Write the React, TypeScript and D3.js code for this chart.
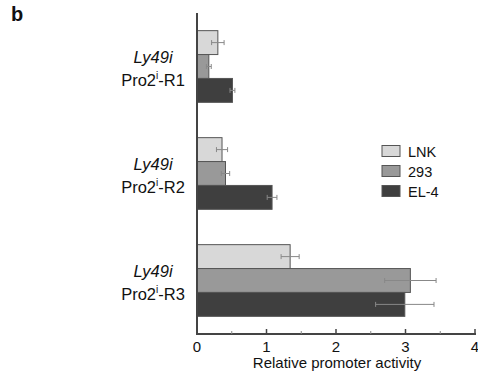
import React from "react";
import * as d3 from "d3";

const groups = ["R1", "R2", "R3"];
const seriesNames = ["LNK", "293", "EL-4"];
const lnkValues = [0.3, 0.36, 1.34];
const lnkErrors = [0.09, 0.08, 0.13];
const h293Values = [0.17, 0.41, 3.07];
const h293Errors = [0.035, 0.06, 0.37];
const el4Values = [0.51, 1.08, 2.99];
const el4Errors = [0.035, 0.07, 0.42];
const xTicks = [0, 1, 2, 3, 4];
const colors = ["#d8d8d8", "#999999", "#3f3f3f"];

const W = 478;
const H = 377;
const FONT = "'Liberation Sans', Arial, sans-serif";

export default function App() {
  const x = d3.scaleLinear().domain([0, 4]).range([197, 475]);
  const y = d3.scaleBand<string>().domain(groups).range([13, 334]).paddingInner(0.33).paddingOuter(0.165);
  const inner = d3.scaleBand<string>().domain(seriesNames).range([0, y.bandwidth()]);
  const values = [lnkValues, h293Values, el4Values];
  const errors = [lnkErrors, h293Errors, el4Errors];
  const minor = d3.range(0.5, 4, 1);

  return (
    <svg width={W} height={H} style={{ position: "absolute", left: 0, top: 0 }} fontFamily={FONT}>
      <rect width={W} height={H} fill="#fff" />
      <text x={11} y={21} fontSize={20} fontWeight="bold" fill="#111">b</text>
      {groups.map((g, gi) => (
        <g key={g}>
          {seriesNames.map((s, si) => {
            const v = values[si][gi];
            const e = errors[si][gi];
            const y0 = (y(g) as number) + (inner(s) as number);
            const bh = inner.bandwidth();
            const cy = y0 + bh / 2;
            return (
              <g key={s}>
                <rect x={x(0)} y={y0} width={x(v) - x(0)} height={bh} fill={colors[si]} stroke="#555" strokeWidth={1} />
                <line x1={x(v - e)} x2={x(v + e)} y1={cy} y2={cy} stroke="#888" strokeWidth={1} />
                <line x1={x(v - e)} x2={x(v - e)} y1={cy - 2.5} y2={cy + 2.5} stroke="#888" strokeWidth={1} />
                <line x1={x(v + e)} x2={x(v + e)} y1={cy - 2.5} y2={cy + 2.5} stroke="#888" strokeWidth={1} />
              </g>
            );
          })}
          <text x={153} y={(y(g) as number) + y.bandwidth() / 2 - 4} textAnchor="middle" fontSize={16.5} fontStyle="italic" fill="#111">Ly49i</text>
          <text x={153} y={(y(g) as number) + y.bandwidth() / 2 + 19} textAnchor="middle" fontSize={16.5} fill="#111">
            Pro2<tspan fontSize={10} dy={-7}>i</tspan><tspan dy={7}>-{g}</tspan>
          </text>
        </g>
      ))}
      <line x1={197} x2={197} y1={13} y2={335} stroke="#444" strokeWidth={2} />
      <line x1={196} x2={476} y1={334} y2={334} stroke="#444" strokeWidth={2} />
      {xTicks.map((t) => (
        <g key={t}>
          <line x1={x(t)} x2={x(t)} y1={329} y2={334} stroke="#444" strokeWidth={1.5} />
          <text x={x(t)} y={352} textAnchor="middle" fontSize={15} fill="#111">{t}</text>
        </g>
      ))}
      {minor.map((t) => (
        <line key={t} x1={x(t)} x2={x(t)} y1={331} y2={334} stroke="#888" strokeWidth={1} />
      ))}
      <text x={337} y={368} textAnchor="middle" fontSize={15} fill="#111">Relative promoter activity</text>
      {seriesNames.map((s, si) => (
        <g key={s}>
          <rect x={382} y={145.5 + si * 20} width={18} height={11} fill={colors[si]} stroke="#555" strokeWidth={1} />
          <text x={408} y={157 + si * 20} fontSize={14.5} fill="#111">{s}</text>
        </g>
      ))}
    </svg>
  );
}
